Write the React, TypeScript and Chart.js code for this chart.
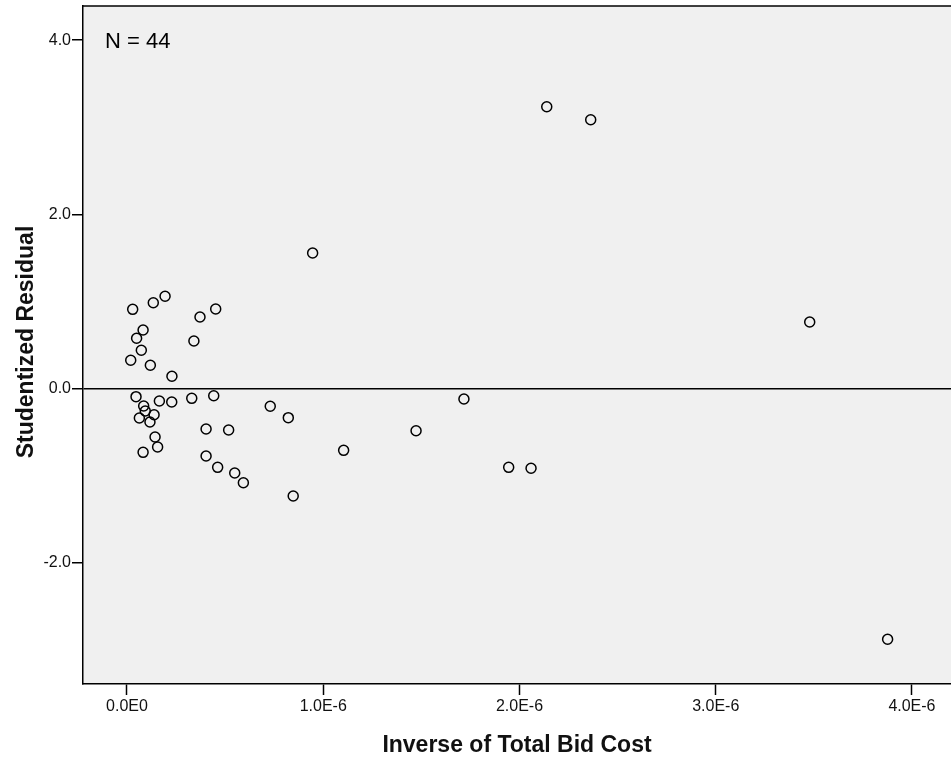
import React, { useEffect, useRef } from "react";
import { Chart, registerables } from "chart.js";

Chart.register(...registerables);

// Inverse of Total Bid Cost, in units of 1E-6
const inverseBidCostE6: number[] = [
  0.029, 0.134, 0.194, 0.452, 0.372, 0.082, 0.049, 0.341, 0.073, 0.019, 0.119,
  0.229, 0.046, 0.085, 0.165, 0.228, 0.33, 0.442, 0.093, 0.138, 0.063, 0.117,
  0.403, 0.518, 0.143, 0.156, 0.082, 0.403, 1.104, 0.73, 0.822, 0.462, 0.549,
  0.593, 0.847, 0.946, 1.717, 1.473, 1.945, 2.059, 2.139, 2.363, 3.479, 3.876,
];

const studentizedResidual: number[] = [
  0.909, 0.985, 1.059, 0.913, 0.821, 0.672, 0.577, 0.545, 0.439, 0.324, 0.267,
  0.14, -0.094, -0.201, -0.144, -0.155, -0.113, -0.083, -0.258, -0.301, -0.339,
  -0.385, -0.465, -0.476, -0.557, -0.672, -0.733, -0.775, -0.71, -0.204, -0.335,
  -0.905, -0.97, -1.082, -1.234, 1.556, -0.121, -0.485, -0.905, -0.916, 3.235,
  3.086, 0.763, -2.879,
];

const xTickValues: number[] = [0, 1, 2, 3, 4];
const xTickLabels: string[] = ["0.0E0", "1.0E-6", "2.0E-6", "3.0E-6", "4.0E-6"];
const yTickValues: number[] = [-2, 0, 2, 4];
const yTickLabels: string[] = ["-2.0", "0.0", "2.0", "4.0"];

const xTitle = "Inverse of Total Bid Cost";
const yTitle = "Studentized Residual";
const noteText = "N = 44";

const FONT = "'Liberation Sans', Arial, Helvetica, sans-serif";

export default function App() {
  const canvasRef = useRef<HTMLCanvasElement | null>(null);

  useEffect(() => {
    const canvas = canvasRef.current;
    if (!canvas) return;

    const decor = {
      id: "spssDecor",
      beforeDraw(chart: any) {
        const { ctx, chartArea } = chart;
        ctx.save();
        ctx.fillStyle = "#F0F0F0";
        ctx.fillRect(
          chartArea.left,
          chartArea.top,
          chartArea.right - chartArea.left,
          chartArea.bottom - chartArea.top
        );
        ctx.restore();
      },
      afterDraw(chart: any) {
        const { ctx, chartArea } = chart;
        ctx.save();
        ctx.strokeStyle = "#000";
        ctx.lineWidth = 1.5;
        ctx.beginPath();
        ctx.moveTo(chartArea.left, chartArea.top);
        ctx.lineTo(chartArea.right, chartArea.top);
        ctx.stroke();

        ctx.fillStyle = "#000";
        ctx.font = `22px ${FONT}`;
        ctx.textAlign = "left";
        ctx.textBaseline = "alphabetic";
        ctx.fillText(noteText, chartArea.left + 22, 48);

        ctx.font = `bold 23px ${FONT}`;
        ctx.textAlign = "center";
        ctx.fillStyle = "#111";
        ctx.fillText(xTitle, (chartArea.left + chartArea.right) / 2, 752);

        ctx.save();
        ctx.translate(33, (chartArea.top + chartArea.bottom) / 2 - 3);
        ctx.rotate(-Math.PI / 2);
        ctx.fillText(yTitle, 0, 0);
        ctx.restore();
        ctx.restore();
      },
    };

    const chart = new Chart(canvas, {
      type: "scatter",
      data: {
        datasets: [
          {
            data: inverseBidCostE6.map((x, i) => ({ x, y: studentizedResidual[i] })),
            pointStyle: "circle",
            pointRadius: 5,
            pointHoverRadius: 5,
            pointBorderWidth: 1.5,
            pointBorderColor: "#000",
            pointBackgroundColor: "rgba(0,0,0,0)",
          },
        ],
      },
      options: {
        animation: false,
        responsive: false,
        devicePixelRatio: 1,
        layout: { autoPadding: false, padding: { top: 6, right: 0, left: 0, bottom: 0 } },
        plugins: {
          legend: { display: false },
          tooltip: { enabled: false },
        },
        scales: {
          x: {
            type: "linear",
            min: -0.2242,
            max: 4.199,
            afterBuildTicks: (scale: any) => {
              scale.ticks = xTickValues.map((value) => ({ value }));
            },
            afterFit: (scale: any) => {
              scale.height = 75;
              scale.paddingLeft = 0;
              scale.paddingRight = 0;
              scale.paddingTop = 0;
              scale.paddingBottom = 0;
            },
            ticks: {
              callback: (_v: any, i: number) => xTickLabels[i],
              font: { family: FONT, size: 16 },
              color: "#111",
              padding: 2,
              maxRotation: 0,
              autoSkip: false,
            },
            grid: {
              drawOnChartArea: false,
              drawTicks: true,
              tickLength: 11,
              tickColor: "#000",
              tickWidth: 1.5,
            },
            border: { display: true, color: "#000", width: 1.5 },
          },
          y: {
            type: "linear",
            min: -3.393,
            max: 4.392,
            afterBuildTicks: (scale: any) => {
              scale.ticks = yTickValues.map((value) => ({ value }));
            },
            afterFit: (scale: any) => {
              scale.width = 83;
              scale.paddingLeft = 0;
              scale.paddingRight = 0;
              scale.paddingTop = 0;
              scale.paddingBottom = 0;
            },
            ticks: {
              callback: (_v: any, i: number) => yTickLabels[i],
              font: { family: FONT, size: 16 },
              color: "#111",
              padding: 1,
              autoSkip: false,
            },
            grid: {
              drawOnChartArea: true,
              drawTicks: true,
              tickLength: 11,
              tickColor: "#000",
              tickWidth: 1.5,
              color: (ctx: any) =>
                ctx.tick && ctx.tick.value === 0 ? "#000" : "rgba(0,0,0,0)",
              lineWidth: 1.5,
            },
            border: { display: true, color: "#000", width: 1.5 },
          },
        },
      },
      plugins: [decor],
    } as any);

    return () => {
      chart.destroy();
    };
  }, []);

  return (
    <div style={{ position: "absolute", left: 0, top: 0, width: 951, height: 759, background: "#fff" }}>
      <canvas ref={canvasRef} width={951} height={759} style={{ display: "block", width: 951, height: 759 }} />
    </div>
  );
}
